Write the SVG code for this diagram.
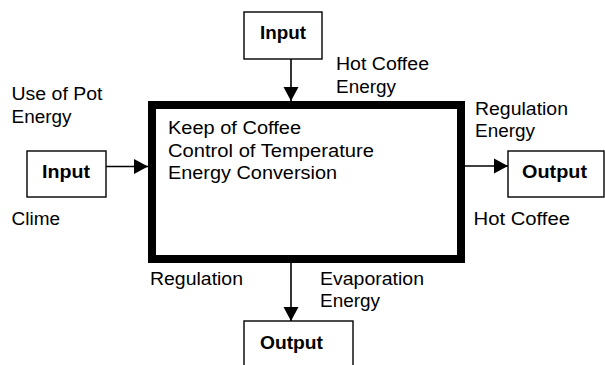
<svg xmlns="http://www.w3.org/2000/svg" width="605" height="365" viewBox="0 0 605 365">
  <defs>
    <marker id="arrow" markerUnits="userSpaceOnUse" markerWidth="16" markerHeight="16" viewBox="0 0 16 16" refX="15" refY="8" orient="auto">
      <path d="M1,0.5 L15,8 L1,15.5 Z" fill="#000"/>
    </marker>
  </defs>
  <style>
    .box { fill: #fff; stroke: #000; stroke-width: 1.4; }
    .main { fill: #fff; stroke: #000; stroke-width: 8; }
    .link { fill: none; stroke: #000; stroke-width: 1.6; marker-end: url(#arrow); }
    .lbl { font-family: "Liberation Sans", Arial, sans-serif; font-size: 17.5px; fill: #000; }
    .bold { font-family: "Liberation Sans", Arial, sans-serif; font-size: 18px; font-weight: bold; fill: #000; }
  </style>
  <rect width="605" height="365" fill="#fff"/>

  <!-- connectors -->
  <g id="connectors">
    <line class="link" x1="291" y1="59" x2="291" y2="101"/>
    <line class="link" x1="106" y1="166.5" x2="148" y2="166.5"/>
    <line class="link" x1="465" y1="166" x2="508" y2="166"/>
    <line class="link" x1="291" y1="263" x2="291" y2="321"/>
  </g>

  <!-- central process -->
  <g id="process">
    <rect class="main" x="152" y="105" width="309" height="154"/>
    <text class="lbl" x="168" y="134" textLength="133" lengthAdjust="spacingAndGlyphs">Keep of Coffee</text>
    <text class="lbl" x="168" y="156.5" textLength="206" lengthAdjust="spacingAndGlyphs">Control of Temperature</text>
    <text class="lbl" x="168" y="179" textLength="169" lengthAdjust="spacingAndGlyphs">Energy Conversion</text>
  </g>

  <!-- top input -->
  <g id="input-top">
    <rect class="box" x="244" y="12" width="78" height="47"/>
    <text class="bold" x="260" y="38.5" textLength="46" lengthAdjust="spacingAndGlyphs">Input</text>
    <text class="lbl" x="336" y="70" textLength="93" lengthAdjust="spacingAndGlyphs">Hot Coffee</text>
    <text class="lbl" x="336" y="92.5" textLength="60" lengthAdjust="spacingAndGlyphs">Energy</text>
  </g>

  <!-- left input -->
  <g id="input-left">
    <rect class="box" x="27" y="151" width="79" height="46"/>
    <text class="bold" x="42" y="177.5" textLength="48" lengthAdjust="spacingAndGlyphs">Input</text>
    <text class="lbl" x="11.5" y="100" textLength="91" lengthAdjust="spacingAndGlyphs">Use of Pot</text>
    <text class="lbl" x="11.5" y="123" textLength="60" lengthAdjust="spacingAndGlyphs">Energy</text>
    <text class="lbl" x="11.5" y="225" textLength="48.5" lengthAdjust="spacingAndGlyphs">Clime</text>
  </g>

  <!-- right output -->
  <g id="output-right">
    <rect class="box" x="508" y="151" width="96" height="46"/>
    <text class="bold" x="522" y="177.5" textLength="65" lengthAdjust="spacingAndGlyphs">Output</text>
    <text class="lbl" x="475" y="115" textLength="93" lengthAdjust="spacingAndGlyphs">Regulation</text>
    <text class="lbl" x="475" y="137" textLength="60" lengthAdjust="spacingAndGlyphs">Energy</text>
    <text class="lbl" x="473.5" y="225" textLength="96.5" lengthAdjust="spacingAndGlyphs">Hot Coffee</text>
  </g>

  <!-- bottom output -->
  <g id="output-bottom">
    <rect class="box" x="244" y="321" width="109" height="60"/>
    <text class="bold" x="260" y="348.5" textLength="63" lengthAdjust="spacingAndGlyphs">Output</text>
    <text class="lbl" x="150" y="284.5" textLength="93" lengthAdjust="spacingAndGlyphs">Regulation</text>
    <text class="lbl" x="320" y="284.5" textLength="104" lengthAdjust="spacingAndGlyphs">Evaporation</text>
    <text class="lbl" x="320" y="306.5" textLength="60" lengthAdjust="spacingAndGlyphs">Energy</text>
  </g>
</svg>
